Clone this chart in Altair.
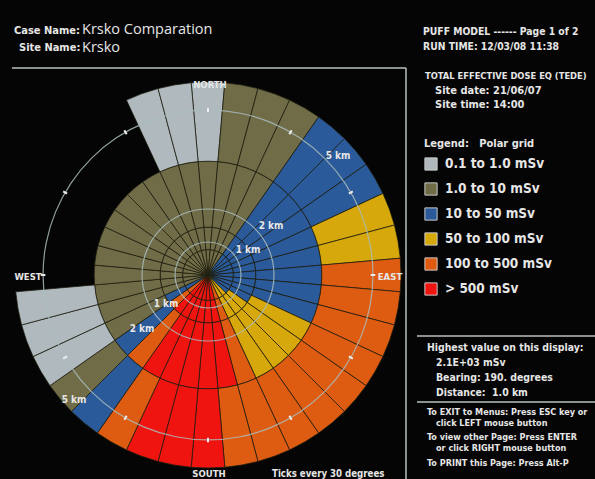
import altair as alt
import pandas as pd

# ---------------- data ----------------
bearings = [0, 10, 20, 30, 40, 50, 60, 70, 80, 90, 100, 110, 120, 130, 140, 150, 160, 170,
            180, 190, 200, 210, 220, 230, 240, 250, 260, 270, 280, 290, 300, 310, 320, 330, 340, 350]
ring_edges_km = [0.0, 0.77, 1.45, 3.45, 5.85]

# dose class per 10-degree sector (bearing 0 = north, clockwise); "-" = no value
# G 0.1-1, O 1-10, B 10-50, Y 50-100, N 100-500, X >500 mSv
ring_a = list("OOOO" "BBBBBBBBBB" "YY" "N" "XXXXXX" "N" "B" "OOOOOOOOOOO")
ring_b = list("OOOO" "BBBBBBBBB" "YYY" "N" "XXXXXX" "N" "B" "OOOOOOOOOOO")
ring_c = list("OOOO" "BBBBBBBB" "YYYY" "N" "XXXXX" "N" "B" "OOOOOOOOOOOO")
ring_d = list("G" "OOO" "BBB" "YY" "NNNNNNNNN" "XXX" "N" "B" "O" "GGG" "-------" "GG")
rings = [ring_a, ring_b, ring_c, ring_d]

class_codes = ["G", "O", "B", "Y", "N", "X"]
class_names = ["0.1 to 1.0 mSv", "1.0 to 10 mSv", "10 to 50 mSv",
               "50 to 100 mSv", "100 to 500 mSv", "> 500 mSv"]
class_colors = ["#b0babe", "#706c48", "#2a5a9a", "#d6a80c", "#de5c12", "#f01410"]

grid_km = [1, 2, 5]
tick_bearings = [0, 30, 60, 90, 120, 150, 180, 210, 240, 270, 300, 330]

rows = []
for k, ring in enumerate(rings):
    for b, code in zip(bearings, ring):
        if code == "-":
            continue
        rows.append({"b0": b - 5, "b1": b + 5,
                     "r0": ring_edges_km[k], "r1": ring_edges_km[k + 1],
                     "dose": class_names[class_codes.index(code)]})
cells = pd.DataFrame(rows)

# ---------------- layout ----------------
CX, CY = 208, 275
W, H = 595, 479
FONT = "Liberation Sans Narrow, DejaVu Sans Condensed, Roboto Condensed, Arial Narrow, sans-serif"
TXT = "#e6e6e6"

tscale = alt.Scale(domain=[0, 360], range=[0, 6.283185307179586], nice=False)
rscale = alt.Scale(type="linear", domain=[0, 5.85], range=[0, 193], nice=False, zero=True)

cell_layer = alt.Chart(cells).mark_arc(
    stroke="#1e1e10", strokeWidth=0.9, strokeOpacity=0.85
).encode(
    x=alt.value(CX), y=alt.value(CY),
    theta=alt.Theta("b0:Q", scale=tscale),
    theta2="b1:Q",
    radius=alt.Radius("r1:Q", scale=rscale),
    radius2="r0:Q",
    color=alt.Color("dose:N",
                    scale=alt.Scale(domain=class_names, range=class_colors),
                    legend=alt.Legend(
                        orient="none", legendX=424, legendY=138,
                        title="Legend:\u00a0\u00a0\u00a0Polar grid",
                        titleColor=TXT, titleFont=FONT, titleFontSize=11, titleFontWeight="bold",
                        titlePadding=8, padding=0,
                        labelColor=TXT, labelFont=FONT, labelFontSize=13.5, labelFontWeight="bold",
                        labelOffset=7, rowPadding=7,
                        symbolType="square", symbolSize=150,
                        symbolStrokeColor="#c8c8c8", symbolStrokeWidth=1,
                    )),
)

circle_layer = alt.Chart(pd.DataFrame({"km": grid_km})).transform_calculate(
    t0="0", t1="360", ri="datum.km - 0.018", ro="datum.km + 0.018"
).mark_arc(color="#a9bcbc", opacity=0.85).encode(
    x=alt.value(CX), y=alt.value(CY),
    theta=alt.Theta("t0:Q", scale=tscale), theta2="t1:Q",
    radius=alt.Radius("ro:Q", scale=rscale), radius2="ri:Q",
)

tick_layer = alt.Chart(pd.DataFrame({"b": tick_bearings})).transform_calculate(
    t0="datum.b - 0.35", t1="datum.b + 0.35", ri="4.93", ro="5.07"
).mark_arc(color="#ececec").encode(
    x=alt.value(CX), y=alt.value(CY),
    theta=alt.Theta("t0:Q", scale=tscale), theta2="t1:Q",
    radius=alt.Radius("ro:Q", scale=rscale), radius2="ri:Q",
)

one = alt.Data(values=[{"a": 1}])


def label(text, x, y, size=12, align="left", weight="bold", font=FONT, color=TXT):
    return alt.Chart(one).mark_text(
        align=align, baseline="middle", fontSize=size, fontWeight=weight, font=font, color=color
    ).encode(x=alt.value(x), y=alt.value(y), text=alt.value(text))


def hline(x1, x2, y, color="#b8c0c0", w=1.5):
    return alt.Chart(one).mark_rule(color=color, strokeWidth=w).encode(
        x=alt.value(x1), x2=alt.value(x2), y=alt.value(y), y2=alt.value(y))


def vline(x, y1, y2, color="#b8c0c0", w=1.5):
    return alt.Chart(one).mark_rule(color=color, strokeWidth=w).encode(
        x=alt.value(x), x2=alt.value(x), y=alt.value(y1), y2=alt.value(y2))


texts = [
    label("Case Name:", 14, 31, 11),
    label("Krsko Comparation", 82, 30, 14.5, weight="normal", font="Open Sans, DejaVu Sans"),
    label("Site Name:", 19, 48, 11),
    label("Krsko", 82, 48, 14.5, weight="normal", font="Open Sans, DejaVu Sans"),
    label("PUFF MODEL ------ Page 1 of 2", 423, 32, 10.3),
    label("RUN TIME: 12/03/08 11:38", 423, 47, 10.3),
    label("TOTAL EFFECTIVE DOSE EQ (TEDE)", 425, 76, 9.3),
    label("Site date: 21/06/07", 435, 91, 11),
    label("Site time: 14:00", 435, 105, 11),
    label("Highest value on this display:", 427, 348, 10.4),
    label("2.1E+03 mSv", 436, 363, 10.4),
    label("Bearing: 190. degrees", 436, 378, 10.4),
    label("Distance:\u00a0\u00a01.0 km", 436, 393, 10.4),
    label("To EXIT to Menus: Press ESC key or", 427, 412, 9.0),
    label("click LEFT mouse button", 436, 423, 9.0),
    label("To view other Page: Press ENTER", 427, 437, 9.0),
    label("or click RIGHT mouse button", 436, 448, 9.0),
    label("To PRINT this Page: Press Alt-P", 427, 463, 9.0),
    label("Ticks every 30 degrees", 272, 474, 9.6),
    label("NORTH", 210, 85, 9.5, align="center", color="#e2e6e8"),
    label("SOUTH", 209, 474, 9.5, align="center"),
    label("EAST", 390, 277, 9.5, align="center"),
    label("WEST", 28, 277, 9.5, align="center"),
    label("1 km", 248, 250, 10, align="center"),
    label("2 km", 271, 226, 10, align="center"),
    label("5 km", 338, 156, 10, align="center"),
    label("1 km", 166, 304, 10, align="center"),
    label("2 km", 142, 329, 10, align="center"),
    label("5 km", 74, 400, 10, align="center"),
]

frame = [
    hline(12, 406, 68),
    vline(406, 68, 479),
    hline(417, 595, 336),
    hline(417, 595, 402),
]

chart = alt.layer(cell_layer, circle_layer, tick_layer, *frame, *texts).properties(
    width=W, height=H, background="#050505", padding=0,
    autosize=alt.AutoSizeParams(type="none"),
).configure_view(stroke=None)

chart.save("out.html", embed_options={"renderer": "svg", "actions": False})
